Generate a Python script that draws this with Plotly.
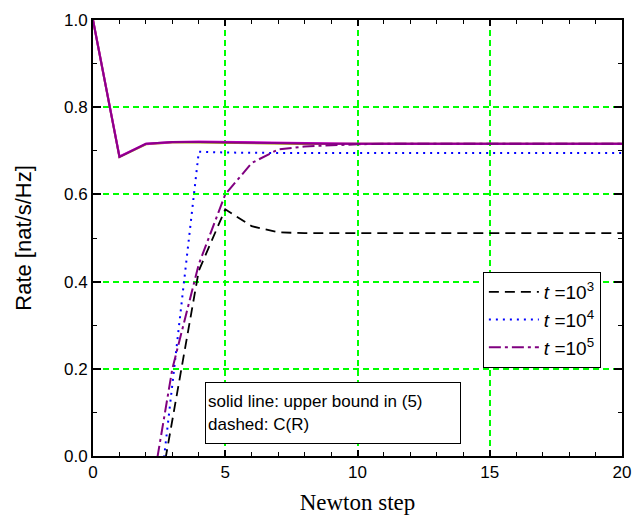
import plotly.graph_objects as go

steps = list(range(0, 21))
ub_olive = [1.0, 0.686, 0.715, 0.719, 0.719, 0.718, 0.717, 0.716, 0.716, 0.716, 0.716,
            0.716, 0.716, 0.716, 0.716, 0.716, 0.716, 0.716, 0.716, 0.716, 0.716]
ub_magenta = [1.0, 0.687, 0.716, 0.720, 0.721, 0.720, 0.719, 0.718, 0.717, 0.717, 0.716,
              0.716, 0.716, 0.716, 0.716, 0.716, 0.716, 0.716, 0.716, 0.716, 0.716]
ub_purple = [1.0, 0.686, 0.716, 0.720, 0.720, 0.719, 0.718, 0.717, 0.717, 0.716, 0.716,
             0.716, 0.716, 0.716, 0.716, 0.716, 0.716, 0.716, 0.716, 0.716, 0.716]

steps_c = list(range(2, 21))
c_t3 = [-0.26, 0.08, 0.425, 0.566, 0.527, 0.513, 0.511, 0.511, 0.511, 0.511,
        0.511, 0.511, 0.511, 0.511, 0.511, 0.511, 0.511, 0.511, 0.511]
c_t4 = [-0.37, 0.165, 0.698, 0.696, 0.695, 0.695, 0.695, 0.695, 0.695, 0.695,
        0.695, 0.695, 0.695, 0.695, 0.695, 0.695, 0.695, 0.695, 0.695]
c_t5 = [-0.16, 0.2, 0.44, 0.6, 0.672, 0.703, 0.71, 0.713, 0.715, 0.716,
        0.716, 0.716, 0.716, 0.716, 0.716, 0.716, 0.716, 0.716, 0.716]

x_major = [0, 5, 10, 15, 20]
y_major = [0.0, 0.2, 0.4, 0.6, 0.8, 1.0]

legend_names = ["<i>t</i> =10<sup>3</sup>", "<i>t</i> =10<sup>4</sup>", "<i>t</i> =10<sup>5</sup>"]

fig = go.Figure()
fig.add_trace(go.Scatter(x=steps, y=ub_olive, mode="lines", line=dict(color="#9a9a00", width=2.2), showlegend=False))
fig.add_trace(go.Scatter(x=steps, y=ub_magenta, mode="lines", line=dict(color="#e000e0", width=2.2), showlegend=False))
fig.add_trace(go.Scatter(x=steps, y=ub_purple, mode="lines", line=dict(color="#8b008b", width=2), showlegend=False))

fig.add_trace(go.Scatter(x=steps_c, y=c_t3, mode="lines", name=legend_names[0],
                         line=dict(color="black", width=1.8, dash="10px,6px")))
fig.add_trace(go.Scatter(x=steps_c, y=c_t4, mode="lines", name=legend_names[1],
                         line=dict(color="#0000ff", width=2, dash="2px,5px")))
fig.add_trace(go.Scatter(x=steps_c, y=c_t5, mode="lines", name=legend_names[2],
                         line=dict(color="#800080", width=2, dash="12px,4px,3px,4px")))

fig.update_layout(
    width=637, height=517,
    margin=dict(l=93, r=15, t=20, b=61, autoexpand=False),
    paper_bgcolor="white", plot_bgcolor="white",
    font=dict(family="Liberation Sans, Arial", size=17, color="black"),
    xaxis=dict(
        range=[0, 20], tickmode="array", tickvals=x_major, automargin=False,
        ticks="inside", ticklen=6, tickwidth=1.5, tickcolor="black",
        minor=dict(tickmode="linear", tick0=0, dtick=1, ticks="inside", ticklen=4,
                   tickcolor="black", tickwidth=1.3, showgrid=False),
        showline=True, linecolor="black", linewidth=2, mirror="ticks",
        showgrid=True, gridcolor="#00ff00", griddash="6px,4px", gridwidth=1.5,
        zeroline=False,
        title=dict(text="Newton step", font=dict(family="Liberation Serif, Times New Roman", size=23), standoff=12),
        tickfont=dict(size=17),
    ),
    yaxis=dict(
        range=[0, 1.0], tickmode="array", tickvals=y_major, tickformat=".1f", automargin=False,
        ticks="inside", ticklen=8, tickwidth=1.5, tickcolor="black",
        minor=dict(tickmode="linear", tick0=0, dtick=0.1, ticks="inside", ticklen=4,
                   tickcolor="black", tickwidth=1.3, showgrid=False),
        showline=True, linecolor="black", linewidth=2, mirror="ticks",
        showgrid=True, gridcolor="#00ff00", griddash="6px,4px", gridwidth=1.5,
        zeroline=False,
        title=dict(text="Rate [nat/s/Hz]", font=dict(size=22), standoff=26),
        tickfont=dict(size=17),
    ),
    legend=dict(
        x=0.737, y=0.422, xanchor="left", yanchor="top",
        bordercolor="black", borderwidth=1, bgcolor="white",
        font=dict(size=19), tracegroupgap=0, itemwidth=50,
    ),
    showlegend=True,
)

fig.add_annotation(
    x=9.09, y=0.0986, xref="x", yref="y",
    text="solid line: upper bound in (5)<br>dashed: C(R)",
    showarrow=False, align="left", font=dict(size=17),
    bordercolor="black", borderwidth=1, bgcolor="white",
    width=250, height=56, borderpad=2,
)

fig.write_html("out.html", config={"displayModeBar": False},
               post_script="document.body.style.margin='0px';")
